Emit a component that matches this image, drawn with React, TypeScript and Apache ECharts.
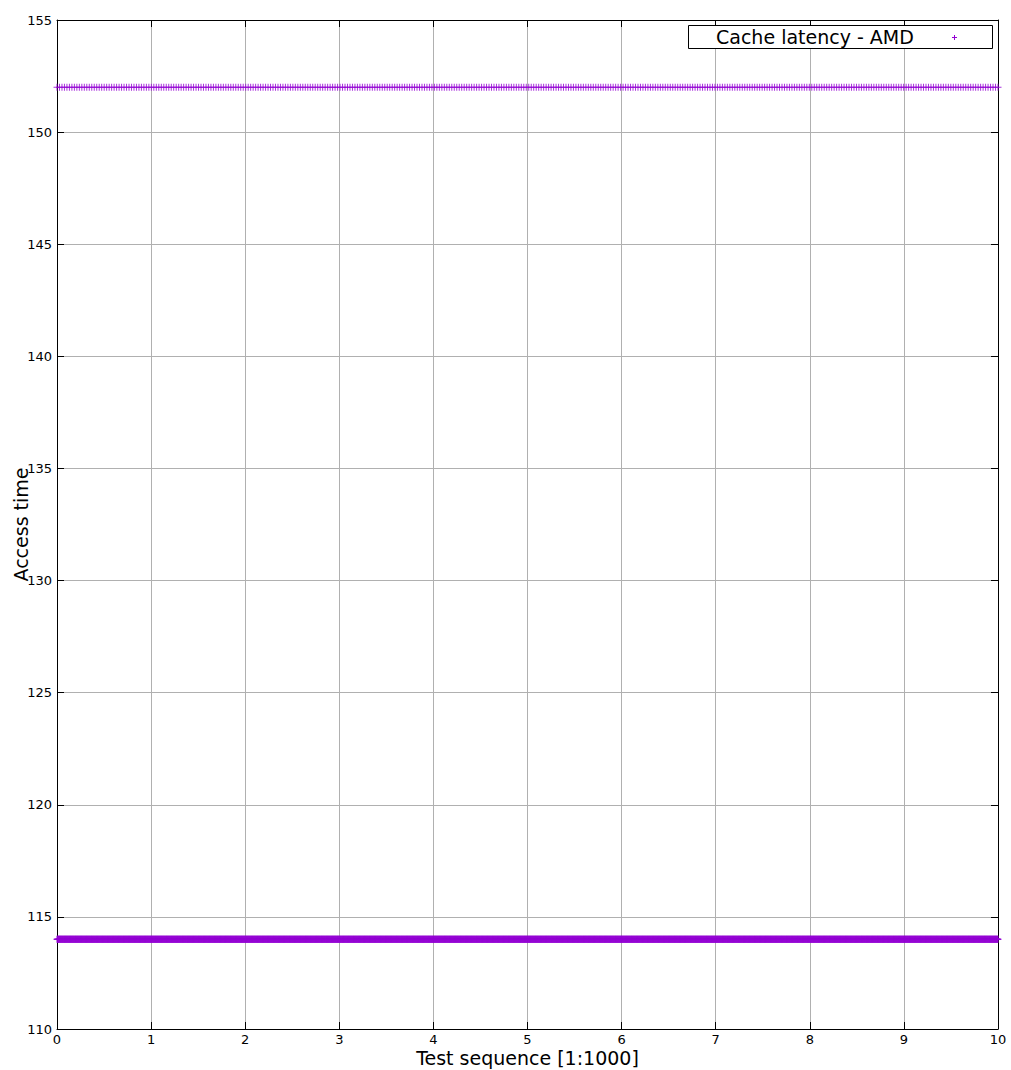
import React, { useEffect, useRef } from "react";
import * as echarts from "echarts";

// Data: every sample sits at one of two constant levels.
const seriesName = "Cache latency - AMD";
const levels = [152, 114]; // access time of the two sample groups
const sampleCounts = [380, 3000]; // approx. number of visible samples per level
const xRange = [0, 10];
const yRange = [110, 155];
const yTicks = [110, 115, 120, 125, 130, 135, 140, 145, 150, 155];
const xTicks = [0, 1, 2, 3, 4, 5, 6, 7, 8, 9, 10];

const COLOR = "#9400d3";
const PLUS = "path://M3,0H4V3H7V4H4V7H3V4H0V3H3Z";
const FONT = "DejaVu Sans";

function levelPoints(level: number, count: number): [number, number][] {
  const pts: [number, number][] = [];
  for (let i = 0; i < count; i++) {
    pts.push([xRange[0] + ((xRange[1] - xRange[0]) * i) / (count - 1), level]);
  }
  return pts;
}

export default function App() {
  const ref = useRef<HTMLDivElement>(null);
  useEffect(() => {
    document.body.style.margin = "0";
    const chart = echarts.init(ref.current!, undefined, { renderer: "svg" });
    const data = levels.flatMap((lv, k) => levelPoints(lv, sampleCounts[k]));
    const tickStyle = { show: true, inside: true, length: 7, lineStyle: { color: "#000", width: 1 } };
    chart.setOption({
      animation: false,
      backgroundColor: "#fff",
      grid: { left: 57, right: 13, top: 20, bottom: 41, containLabel: false, outerBoundsMode: "none" },
      xAxis: [
        {
          type: "value",
          min: xRange[0],
          max: xRange[1],
          interval: 1,
          name: "Test sequence [1:1000]",
          nameLocation: "middle",
          nameGap: 19,
          nameMoveOverlap: false,
          nameTextStyle: { fontFamily: FONT, fontSize: 19, color: "#000", lineHeight: 19 },
          axisLine: { show: true, onZero: false, lineStyle: { color: "#000", width: 1 } },
          axisTick: tickStyle,
          axisLabel: {
            fontFamily: FONT,
            fontSize: 13,
            color: "#000",
            margin: 4,
            lineHeight: 13,
            formatter: (v: number) => (xTicks.includes(v) ? String(v) : ""),
          },
          splitLine: { show: true, lineStyle: { color: "#b0b0b0", width: 1 } },
        },
        {
          type: "value",
          position: "top",
          min: xRange[0],
          max: xRange[1],
          interval: 1,
          axisLine: { show: true, onZero: false, lineStyle: { color: "#000", width: 1 } },
          axisTick: tickStyle,
          axisLabel: { show: false },
          splitLine: { show: false },
        },
      ],
      yAxis: [
        {
          type: "value",
          min: yRange[0],
          max: yRange[1],
          interval: 5,
          name: "Access time",
          nameLocation: "middle",
          nameGap: 27,
          nameMoveOverlap: false,
          nameTextStyle: { fontFamily: FONT, fontSize: 19, color: "#000" },
          axisLine: { show: true, onZero: false, lineStyle: { color: "#000", width: 1 } },
          axisTick: tickStyle,
          axisLabel: {
            fontFamily: FONT,
            fontSize: 13,
            color: "#000",
            margin: 5,
            formatter: (v: number) => (yTicks.includes(v) ? String(v) : ""),
          },
          splitLine: { show: true, lineStyle: { color: "#b0b0b0", width: 1 } },
        },
        {
          type: "value",
          position: "right",
          min: yRange[0],
          max: yRange[1],
          interval: 5,
          axisLine: { show: true, onZero: false, lineStyle: { color: "#000", width: 1 } },
          axisTick: tickStyle,
          axisLabel: { show: false },
          splitLine: { show: false },
        },
      ],
      series: [
        {
          name: seriesName,
          type: "scatter",
          xAxisIndex: 0,
          yAxisIndex: 0,
          data,
          symbol: PLUS,
          symbolSize: 7,
          clip: false,
          large: false,
          itemStyle: { color: COLOR },
          emphasis: { disabled: true },
        },
      ],
      graphic: [
        {
          type: "rect",
          shape: { x: 688.5, y: 25.5, width: 304, height: 23 },
          style: { fill: "#fff", stroke: "#000", lineWidth: 1 },
          z: 10,
        },
        {
          type: "text",
          x: 716,
          y: 37,
          style: {
            text: seriesName,
            fontFamily: FONT,
            fontSize: 19,
            fill: "#000",
            verticalAlign: "middle",
            align: "left",
          },
          z: 11,
        },
        {
          type: "rect",
          shape: { x: 952, y: 37, width: 5, height: 1 },
          style: { fill: COLOR },
          z: 11,
        },
        {
          type: "rect",
          shape: { x: 954, y: 35, width: 1, height: 5 },
          style: { fill: COLOR },
          z: 11,
        },
      ],
    });
    return () => chart.dispose();
  }, []);
  return (
    <div
      ref={ref}
      style={{ position: "absolute", left: 0, top: 0, width: 1011, height: 1070 }}
    />
  );
}
